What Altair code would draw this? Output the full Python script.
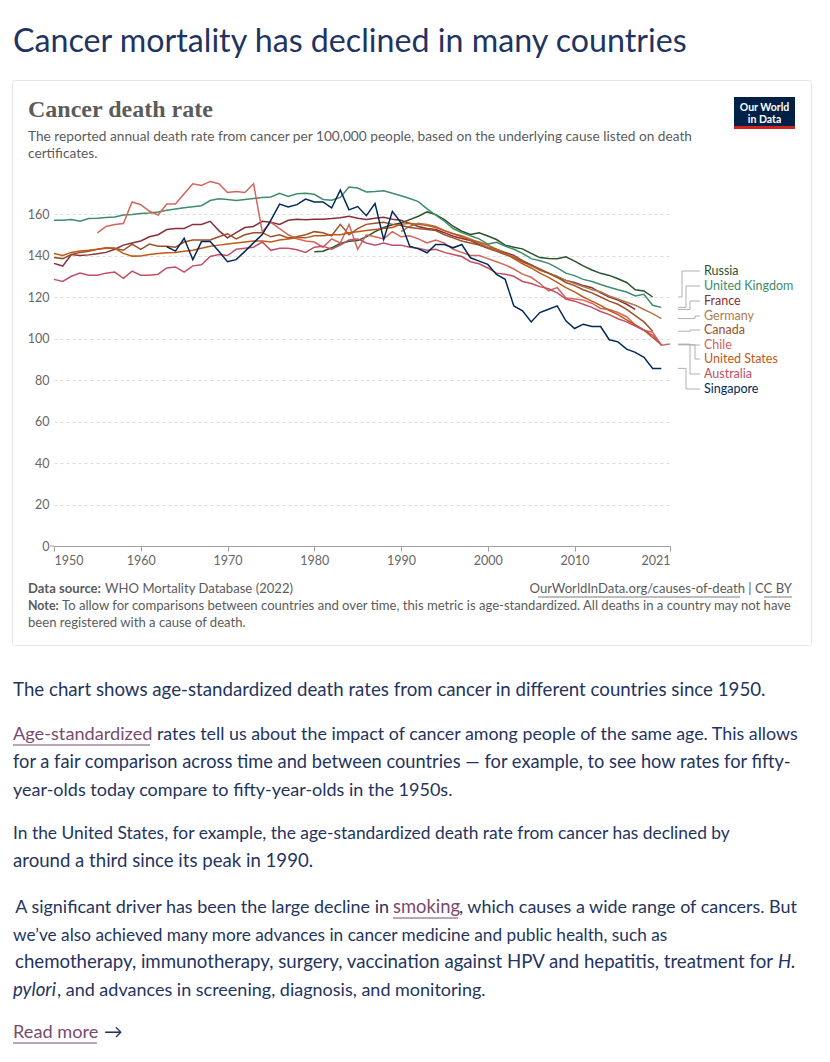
import altair as alt
import pandas as pd

# ---------------- data ----------------
countries = ["Russia", "United Kingdom", "France", "Germany", "Canada",
             "Chile", "United States", "Australia", "Singapore"]
colors = ["#2b5329", "#3e8c6b", "#883039", "#b07a4c", "#9a5129",
          "#d5645a", "#c05917", "#c15065", "#00295b"]

start_year = {"Russia": 1980, "United Kingdom": 1950, "France": 1950, "Germany": 1990,
              "Canada": 1950, "Chile": 1955, "United States": 1950, "Australia": 1950,
              "Singapore": 1963}

russia = [141.8, 142.1, 143.7, 145.8, 146.9, 147.2, 149.0, 151.5, 153.5, 154.8,
          155.7, 157.3, 158.9, 161.0, 159.7, 157.3, 154.1, 151.7, 150.1, 150.9,
          149.4, 147.7, 145.0, 144.0, 143.2, 141.0, 139.0, 138.6, 138.4, 139.4,
          137.3, 135.0, 133.0, 131.4, 130.4, 128.8, 127.0, 123.5, 122.9, 120.0]
uk = [157.0, 157.0, 157.3, 156.5, 157.8, 158.0, 158.3, 158.6, 159.5, 159.8,
      160.2, 160.5, 161.0, 161.8, 162.4, 163.0, 163.5, 164.0, 166.5, 167.3,
      167.0, 166.5, 167.0, 167.5, 168.0, 168.2, 170.0, 168.5, 169.8, 170.0,
      169.5, 167.0, 166.6, 168.0, 173.0, 172.5, 170.6, 170.8, 171.2, 170.0,
      168.8, 167.5, 166.0, 162.5, 159.5, 156.5, 153.0, 151.0, 149.5, 148.0,
      145.5, 146.4, 144.5, 143.0, 141.0, 138.5, 137.5, 136.2, 134.0, 131.5,
      130.3, 128.5, 127.5, 126.0, 124.7, 123.5, 122.4, 120.5, 121.3, 116.0, 115.0]
france = [136.2, 134.9, 140.5, 140.0, 140.3, 140.8, 141.5, 143.0, 145.0, 146.0,
          147.0, 149.0, 150.0, 152.5, 153.0, 153.0, 155.0, 155.0, 156.5, 152.0,
          148.5, 151.0, 153.5, 154.0, 156.5, 156.0, 155.0, 157.0, 157.5, 157.2,
          157.5, 157.5, 157.8, 158.2, 158.9, 158.0, 157.3, 158.0, 158.4, 157.5,
          157.0, 155.5, 154.0, 153.0, 152.5, 151.0, 149.3, 148.2, 147.2, 145.3,
          144.0, 142.9, 141.5, 140.0, 137.5, 135.5, 133.0, 131.5, 129.5, 128.0,
          127.0, 125.5, 124.5, 122.0, 120.0, 118.5, 116.5, 114.0]
germany = [151.5, 154.0, 155.5, 155.0, 154.0, 152.0, 150.5, 149.5, 148.0, 146.0,
           144.0, 142.5, 141.0, 139.5, 137.0, 135.0, 133.0, 131.5, 130.0, 128.0,
           126.5, 125.0, 123.5, 122.5, 120.5, 119.0, 117.5, 116.0, 114.0, 112.0, 109.6]
canada = [139.0, 138.5, 140.5, 141.5, 142.0, 143.0, 143.5, 143.5, 142.5, 145.5,
          143.0, 145.5, 144.5, 144.5, 144.0, 146.5, 147.5, 147.5, 147.5, 149.0,
          150.5, 148.0, 150.0, 151.0, 151.0, 149.0, 150.0, 148.5, 149.0, 150.0,
          151.5, 151.0, 149.5, 155.0, 150.0, 153.0, 155.0, 155.5, 156.0, 155.0,
          154.5, 153.5, 153.0, 152.5, 152.0, 150.0, 148.5, 147.0, 146.0, 145.0,
          143.5, 142.0, 140.5, 139.0, 137.0, 135.5, 133.5, 131.5, 129.5, 127.0,
          125.5, 123.5, 122.0, 120.0, 118.0, 116.5, 114.0, 111.0, 108.0, 103.5]
chile = [150.9, 154.0, 154.9, 155.4, 165.8, 164.5, 161.3, 159.5, 164.8, 164.8,
         169.8, 174.6, 173.8, 175.7, 174.6, 170.4, 170.9, 170.4, 174.6, 151.5,
         156.0, 153.0, 150.0, 148.0, 147.0, 146.5, 144.0, 148.0, 146.0, 155.0,
         143.0, 150.0, 149.0, 148.0, 151.5, 149.0, 149.5, 148.0, 146.0, 147.5,
         146.0, 143.0, 141.5, 140.0, 140.0, 138.5, 137.0, 135.5, 133.5, 131.0,
         129.5, 126.5, 123.0, 124.5, 119.5, 119.0, 118.5, 117.0, 114.5, 114.0,
         112.5, 110.5, 106.5, 104.0, 103.0, 96.8, 97.3]
usa = [141.0, 140.0, 141.5, 142.2, 142.5, 143.0, 143.7, 143.5, 141.0, 139.7,
       139.8, 140.5, 141.0, 141.3, 141.5, 142.0, 142.5, 143.5, 144.5, 145.0,
       145.5, 146.0, 146.5, 147.0, 147.0, 146.5, 147.5, 148.0, 148.5, 148.5,
       149.5, 149.5, 150.0, 150.0, 151.0, 151.5, 152.0, 152.5, 153.0, 153.5,
       155.0, 155.5, 155.0, 154.5, 153.5, 152.0, 150.5, 149.0, 147.5, 146.5,
       145.0, 143.0, 141.0, 138.5, 136.0, 134.0, 131.5, 129.5, 127.0, 124.5,
       122.5, 120.0, 118.0, 116.0, 113.5, 111.5, 109.0, 106.5, 104.0, 100.5, 97.0]
australia = [128.5, 127.5, 130.0, 131.5, 130.5, 130.5, 131.5, 132.0, 129.0, 132.5,
             130.5, 130.5, 131.0, 134.0, 134.5, 132.0, 135.0, 135.5, 139.5, 140.5,
             140.0, 143.0, 143.5, 144.0, 146.5, 142.5, 143.5, 143.5, 142.8, 141.5,
             144.0, 144.5, 143.0, 145.0, 147.5, 148.0, 146.0, 145.0, 146.0, 145.0,
             145.0, 144.0, 143.5, 142.5, 143.0, 141.5, 140.5, 139.5, 137.0, 136.0,
             134.0, 131.5, 131.0, 130.0, 127.5, 126.5, 125.0, 124.0, 122.0, 119.0,
             118.0, 116.5, 115.0, 113.0, 111.5, 109.5, 108.0, 106.0, 104.0, 101.5, 97.0]
singapore = [144.2, 142.1, 148.3, 138.0, 146.7, 146.7, 142.0, 137.0, 138.0, 142.0,
             146.1, 150.1, 157.0, 164.8, 163.4, 164.5, 167.2, 165.8, 165.8, 162.9,
             171.5, 162.0, 163.6, 159.2, 165.0, 147.7, 161.3, 155.7, 144.5, 143.2,
             141.3, 145.3, 145.3, 143.7, 145.3, 138.9, 137.3, 135.7, 130.9, 128.5,
             115.7, 113.3, 108.0, 112.5, 114.1, 115.7, 108.5, 104.8, 106.9, 105.8,
             105.8, 99.4, 98.4, 94.9, 93.3, 90.9, 85.6, 85.6]

series = {"Russia": russia, "United Kingdom": uk, "France": france, "Germany": germany,
          "Canada": canada, "Chile": chile, "United States": usa,
          "Australia": australia, "Singapore": singapore}

x_ticks = [1950, 1960, 1970, 1980, 1990, 2000, 2010, 2021]
y_ticks = [0, 20, 40, 60, 80, 100, 120, 140, 160]

# ---------------- layout (pixels) ----------------
OX, OY = 54, 214            # page position of the plot origin
W, H = 616, 332
YMIN, YMAX = 1950, 2021
VMAX = 160
PX_PER_YEAR = W / (YMAX - YMIN)
PX_PER_UNIT = H / VMAX

label_px_y = [271, 286, 301, 316, 330, 345, 359, 374, 389]     # page y of line labels
jog_px_x = [682, 686, 690, 695, 690, 690, 695, 690, 686]        # page x of leader jogs
lead_start_px, lead_end_px, label_px_x = 678, 700, 704

NAVY = "#1f3460"
GREY = "#5b5b5b"
LINK = "#7a4a6e"

rows = []
for c in countries:
    for i, v in enumerate(series[c]):
        rows.append({"country": c, "year": start_year[c] + i, "value": v})
df = pd.DataFrame(rows)


def px_to_year(px):
    return YMIN + (px - OX) / PX_PER_YEAR


def py_to_val(py):
    return (OY + H - py) / PX_PER_UNIT


lead = pd.DataFrame({
    "country": countries,
    "yend": [series[c][-1] for c in countries],
    "x0": [px_to_year(lead_start_px)] * len(countries),
    "xj": [px_to_year(p) for p in jog_px_x],
    "x1": [px_to_year(lead_end_px)] * len(countries),
    "xl": [px_to_year(label_px_x)] * len(countries),
    "ylab": [py_to_val(p) for p in label_px_y],
})

xs = alt.Scale(domain=[YMIN, YMAX], nice=False, zero=False)
ys = alt.Scale(domain=[0, VMAX], nice=False)
cs = alt.Scale(domain=countries, range=colors)

XAXIS = alt.Axis(values=x_ticks, format="d", labelFlush=True, grid=False, title=None,
                 domainColor="#a0a0a0", tickColor="#a0a0a0", tickSize=5, labelPadding=3,
                 labelColor="#666", labelFont="Lato", labelFontSize=12.5)
YAXIS = alt.Axis(values=y_ticks, grid=True, gridDash=[3, 3], gridColor="#dcdcdc",
                 domain=False, ticks=False, labelPadding=5, title=None, labelColor="#666",
                 labelFont="Lato", labelFontSize=12.5)

lines = alt.Chart(df).mark_line(strokeWidth=1.5).encode(
    x=alt.X("year:Q", scale=xs, axis=XAXIS),
    y=alt.Y("value:Q", scale=ys, axis=YAXIS),
    color=alt.Color("country:N", scale=cs, legend=None),
    detail="country:N",
)

lc = "#b0b0b0"
r1 = alt.Chart(lead).mark_rule(color=lc, strokeWidth=1).encode(
    x=alt.X("x0:Q", scale=xs, axis=XAXIS), x2="xj:Q",
    y=alt.Y("yend:Q", scale=ys, axis=YAXIS))
r2 = alt.Chart(lead).mark_rule(color=lc, strokeWidth=1).encode(
    x=alt.X("xj:Q", scale=xs, axis=XAXIS),
    y=alt.Y("yend:Q", scale=ys, axis=YAXIS), y2="ylab:Q")
r3 = alt.Chart(lead).mark_rule(color=lc, strokeWidth=1).encode(
    x=alt.X("xj:Q", scale=xs, axis=XAXIS), x2="x1:Q",
    y=alt.Y("ylab:Q", scale=ys, axis=YAXIS))
labels = alt.Chart(lead).mark_text(align="left", baseline="middle", font="Lato",
                                   fontSize=12.5).encode(
    x=alt.X("xl:Q", scale=xs, axis=XAXIS), y=alt.Y("ylab:Q", scale=ys, axis=YAXIS),
    text="country:N", color=alt.Color("country:N", scale=cs, legend=None))


def one():
    return pd.DataFrame({"k": [0]})


def txt(s, px, py, size, color, weight="normal", style="normal", align="left",
        font="Lato", baseline="alphabetic"):
    return alt.Chart(one()).mark_text(
        text=s, align=align, baseline=baseline, font=font, fontSize=size,
        fontWeight=weight, fontStyle=style, color=color).encode(
        x=alt.value(px - OX), y=alt.value(py - OY))


def hrule(x1, x2, py, color, width=1.0):
    return alt.Chart(one()).mark_rule(color=color, strokeWidth=width).encode(
        x=alt.value(x1 - OX), x2=alt.value(x2 - OX), y=alt.value(py - OY))


def box(x1, y1, x2, y2, fill=None, stroke=None, radius=0):
    kw = {}
    if fill is not None:
        kw["fill"] = fill
    else:
        kw["filled"] = False
    if stroke is not None:
        kw["stroke"] = stroke
        kw["strokeWidth"] = 1
    return alt.Chart(one()).mark_rect(cornerRadius=radius, **kw).encode(
        x=alt.value(x1 - OX), x2=alt.value(x2 - OX),
        y=alt.value(y1 - OY), y2=alt.value(y2 - OY))


SUB = 13.7
FOOT = 13.1
deco = [
    txt("Cancer mortality has declined in many countries", 13, 52, 32.2, NAVY),
    box(12.5, 80.5, 811.5, 645.5, stroke="#e6e6e6", radius=2),
    txt("Cancer death rate", 28, 117, 24, GREY, weight="bold", font="Liberation Serif"),
    txt("The reported annual death rate from cancer per 100,000 people, based on the underlying cause listed on death",
        28, 141, SUB, GREY),
    txt("certificates.", 28, 158, SUB, GREY),
    box(734, 97, 795, 126, fill="#002147"),
    box(734, 126, 795, 129, fill="#ce261e"),
    txt("Our World", 764.5, 111, 10.5, "white", weight="bold", align="center"),
    txt("in Data", 764.5, 123, 10.5, "white", weight="bold", align="center"),
    hrule(50, 54, 546, "#a0a0a0", 1),
    txt("Data source:", 28, 593, FOOT, GREY, weight="bold"),
    txt("WHO Mortality Database (2022)", 105, 593, FOOT, GREY),
    txt("OurWorldInData.org/causes-of-death | CC BY", 792, 593, FOOT, GREY, align="right"),
    hrule(538, 740, 597, GREY, 0.8),
    hrule(764, 792, 597, GREY, 0.8),
    txt("Note:", 28, 610, 12.4, GREY, weight="bold"),
    txt("To allow for comparisons between countries and over time, this metric is age-standardized. All deaths in a country may not have",
        62, 610, FOOT, GREY),
    txt("been registered with a cause of death.", 28, 627, FOOT, GREY),
    # article text
    txt("The chart shows age-standardized death rates from cancer in different countries since 1950.",
        13, 696, 18.7, NAVY),
    txt("Age-standardized", 13, 740, 18.2, LINK),
    hrule(13, 150, 745, LINK, 1),
    txt("rates tell us about the impact of cancer among people of the same age. This allows",
        157, 740, 17.85, NAVY),
    txt("for a fair comparison across time and between countries \u2014 for example, to see how rates for fifty-",
        13, 768, 18.25, NAVY),
    txt("year-olds today compare to fifty-year-olds in the 1950s.", 13, 796, 18.0, NAVY),
    txt("In the United States, for example, the age-standardized death rate from cancer has declined by",
        13, 839, 17.4, NAVY),
    txt("around a third since its peak in 1990.", 13, 867, 18.6, NAVY),
    txt("A significant driver has been the large decline in", 389, 913, 17.95, NAVY, align="right"),
    txt("smoking", 393, 913, 18.4, LINK),
    hrule(393, 458, 918, LINK, 1),
    txt(", which causes a wide range of cancers. But", 459, 913, 17.95, NAVY),
    txt("we\u2019ve also achieved many more advances in cancer medicine and public health, such as",
        13, 941, 17.25, NAVY),
    txt("chemotherapy, immunotherapy, surgery, vaccination against HPV and hepatitis, treatment for",
        773, 968, 18.65, NAVY, align="right"),
    txt("H.", 778, 968, 18.6, NAVY, style="italic"),
    txt("pylori", 13, 996, 18.6, NAVY, style="italic"),
    txt(", and advances in screening, diagnosis, and monitoring.", 57, 996, 18.0, NAVY),
    txt("Read more", 13, 1038, 18.2, LINK),
    hrule(13, 97, 1043, LINK, 1),
    txt("\u2192", 104, 1038, 18.6, NAVY),
]

chart = alt.layer(lines, r1, r2, r3, labels, *deco).properties(
    width=W, height=H,
    autosize=alt.AutoSizeParams(type="none"),
    padding={"left": OX - 8, "top": OY - 8, "right": 822 - 8 - (OX - 8) - W, "bottom": 1046 - (OY - 8) - H},
    background="white",
).configure_view(stroke=None)

chart.save("out.html", embed_options={"renderer": "svg", "actions": False})
